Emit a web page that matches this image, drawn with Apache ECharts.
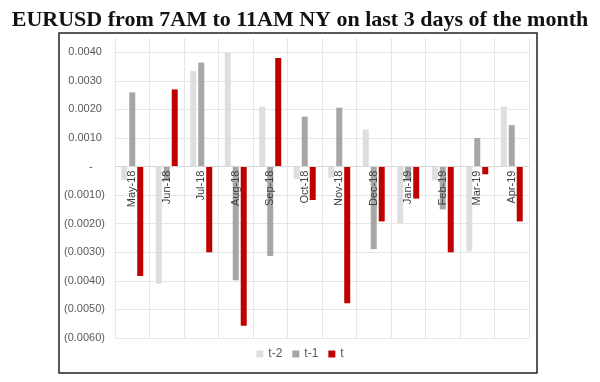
<!DOCTYPE html>
<html><head><meta charset="utf-8">
<script src="https://cdn.jsdelivr.net/npm/echarts@6/dist/echarts.min.js"></script>
<style>html,body{margin:0;padding:0;background:#fff}#c{width:600px;height:382px}</style>
</head><body><div id="c"></div>
<script>
const titleText = 'EURUSD from 7AM to 11AM NY on last 3 days of the month';
const categories = ['May-18','Jun-18','Jul-18','Aug-18','Sep-18','Oct-18','Nov-18','Dec-18','Jan-19','Feb-19','Mar-19','Apr-19'];
const seriesNames = ['t-2','t-1','t'];
const t2 = [-0.00047,-0.0041,0.00334,0.0040,0.0021,-0.00044,-0.00039,0.0013,-0.00198,-0.00048,-0.00297,0.0021];
const t1 = [0.0026,-0.0005,0.00364,-0.00398,-0.00313,0.00175,0.00206,-0.00289,-0.0005,-0.0015,0.0010,0.00145];
const t0 = [-0.00383,0.0027,-0.0030,-0.00557,0.0038,-0.00117,-0.00478,-0.00192,-0.00112,-0.0030,-0.00027,-0.00192];
const colors = ['#dedede','#a6a6a6','#c00000'];

const yMin = -0.006, yMax = 0.0045;
const gridTop = 38, gridBottom = 44, H = 382;
const plotH = H - gridTop - gridBottom;
const zeroOffset = -plotH * (0 - yMin) / (yMax - yMin);

function fmt(v){
  if (Math.abs(v) < 1e-9) return '-    ';
  const s = Math.abs(v).toFixed(4);
  return v < 0 ? '(' + s + ')' : s + ' ';
}

const chart = echarts.init(document.getElementById('c'));
chart.setOption({
  animation:false,
  title:{text:titleText,left:'center',top:4,textStyle:{fontFamily:'Liberation Serif',fontWeight:'bold',fontSize:22,color:'#111'}},
  graphic:[{type:'rect',shape:{x:59,y:33,width:478,height:340},style:{fill:'none',stroke:'#222',lineWidth:1.5},z:-1}],
  legend:{bottom:17,left:'center',itemWidth:7,itemHeight:7,itemGap:10,icon:'rect',
    textStyle:{color:'#595959',fontSize:12,fontFamily:'Liberation Sans'},data:seriesNames},
  grid:{left:115,right:71,top:gridTop,bottom:gridBottom},
  xAxis:{type:'category',data:categories,offset:zeroOffset,z:10,
    axisLine:{show:true,onZero:false,lineStyle:{color:'#d9d9d9'}},
    axisTick:{show:false},
    splitLine:{show:true,lineStyle:{color:'#e6e6e6'}},
    axisLabel:{rotate:90,margin:4,color:'#404040',fontSize:11,fontFamily:'Liberation Sans',interval:0}},
  yAxis:{type:'value',min:yMin,max:yMax,interval:0.001,
    axisLine:{show:false},axisTick:{show:false},
    splitLine:{show:true,showMaxLine:false,lineStyle:{color:'#e6e6e6'}},
    axisLabel:{showMaxLabel:false,color:'#595959',fontSize:11,fontFamily:'Liberation Sans',margin:10,formatter:fmt}},
  series:[
    {name:seriesNames[0],type:'bar',data:t2,barWidth:6,barGap:'33%',itemStyle:{color:colors[0]}},
    {name:seriesNames[1],type:'bar',data:t1,barWidth:6,barGap:'33%',itemStyle:{color:colors[1]}},
    {name:seriesNames[2],type:'bar',data:t0,barWidth:6,barGap:'33%',itemStyle:{color:colors[2]}}
  ]
});
</script></body></html>
